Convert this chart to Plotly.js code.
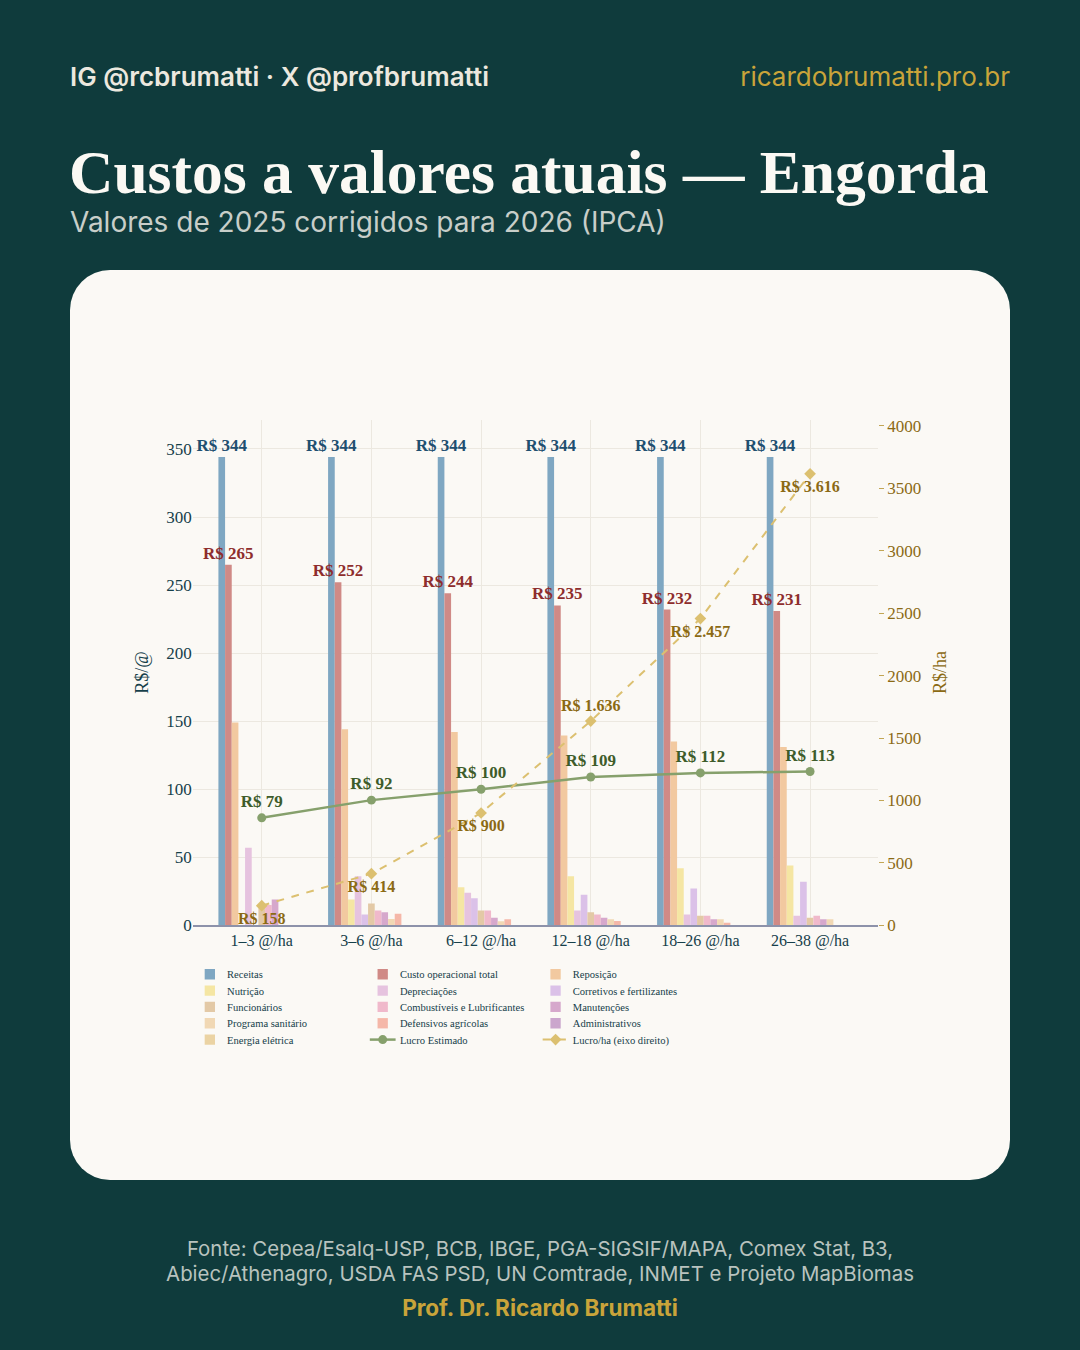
<!DOCTYPE html>
<html><head><meta charset="utf-8">
<script src="https://cdn.plot.ly/plotly-3.0.1.min.js"></script>
<style>
html,body{margin:0;padding:0;}
body{width:1080px;height:1350px;background:#0f3b3c;position:relative;overflow:hidden;font-family:Inter,'Noto Sans',sans-serif;}
#hdrL{position:absolute;left:70px;top:61px;font-size:26px;font-weight:600;color:#ece8df;}
#hdrR{position:absolute;right:70px;top:61px;font-size:26px;font-weight:400;color:#c9a43a;}
#title{position:absolute;left:69px;top:137px;font-family:'Liberation Serif',serif;font-weight:700;font-size:61.5px;color:#fbf9f4;white-space:nowrap;}
#sub{position:absolute;left:70px;top:205px;font-size:28px;color:#c8cec9;font-weight:400;}
#card{position:absolute;left:70px;top:270px;width:940px;height:910px;background:#fbf9f5;border-radius:40px;}
#chart{position:absolute;left:0;top:0;transform-origin:0 0;}
#src{position:absolute;left:0;width:1080px;top:1236px;text-align:center;font-size:20.4px;line-height:25px;color:#b9c3bf;}
#sig{position:absolute;left:0;width:1080px;top:1294px;text-align:center;font-size:22.5px;font-weight:700;color:#c9a43a;}
</style></head>
<body>
<div id="hdrL">IG @rcbrumatti · X @profbrumatti</div>
<div id="hdrR">ricardobrumatti.pro.br</div>
<div id="title">Custos a valores atuais — Engorda</div>
<div id="sub">Valores de 2025 corrigidos para 2026 (IPCA)</div>
<div id="card"></div>
<div id="chart"></div>
<div id="src">Fonte: Cepea/Esalq-USP, BCB, IBGE, PGA-SIGSIF/MAPA, Comex Stat, B3,<br>Abiec/Athenagro, USDA FAS PSD, UN Comtrade, INMET e Projeto MapBiomas</div>
<div id="sig">Prof. Dr. Ricardo Brumatti</div>
<script>
const categories = ['1–3 @/ha','3–6 @/ha','6–12 @/ha','12–18 @/ha','18–26 @/ha','26–38 @/ha'];
const receitas = [344,344,344,344,344,344];
const custoTotal = [265,252,244,235,232,231];
const reposicao = [149,144,142,139.5,135,131];
const nutricao = [0,19,28,36,42,44];
const depreciacoes = [57,36,24,11,8,7];
const corretivos = [0,8,20,22.5,27,32];
const funcionarios = [14,16,11,9.6,7,5.6];
const combustiveis = [15,11,11,8,7,7];
const manutencoes = [19,9.6,5.6,5.6,4.4,4.4];
const programaSanitario = [0,4.6,3,4.4,4.4,4.4];
const defensivos = [0,8.6,4.4,3.2,2,0];
const administrativos = [0,0,0,0,0,0];
const energia = [0,0,0,0,0,0];
const lucro = [79,92,100,109,112,113];
const lucroHa = [158,414,900,1636,2457,3616];
const lucroHaPos = ['bottom center','bottom center','bottom center','top center','bottom center','bottom center'];

const S = 0.86;               // render scale of the chart element
const P = v => v / S;         // page pixels -> chart pixels
const W = Math.round(P(1080)), H = Math.round(P(1350));
const SERIF = "Georgia, 'Liberation Serif', 'DejaVu Serif', serif";
const fmt = v => 'R$ ' + v.toLocaleString('pt-BR');

const barSeries = [
  ['Receitas', receitas, '#7fa7c2', true, '#1f4f70'],
  ['Custo operacional total', custoTotal, '#d08a86', true, '#8e2d2d'],
  ['Reposição', reposicao, '#f2c9a0'],
  ['Nutrição', nutricao, '#f5e6a3'],
  ['Depreciações', depreciacoes, '#e6c3df'],
  ['Corretivos e fertilizantes', corretivos, '#dbc1e8'],
  ['Funcionários', funcionarios, '#e3c9a6'],
  ['Combustíveis e Lubrificantes', combustiveis, '#f0b9cb'],
  ['Manutenções', manutencoes, '#d6a8cc'],
  ['Programa sanitário', programaSanitario, '#f1d8b4'],
  ['Defensivos agrícolas', defensivos, '#f5b7a8'],
  ['Administrativos', administrativos, '#cba6cd'],
  ['Energia elétrica', energia, '#ebd3a3']
];

const traces = barSeries.map(s => {
  const t = {type:'bar', name:s[0], x:categories, y:s[1], marker:{color:s[2]}, cliponaxis:false};
  if (s[3]) {
    t.text = s[1].map(fmt); t.textposition='outside'; t.constraintext='none'; t.textangle=0;
    t.textfont = {family:SERIF, size:P(17), color:s[4], weight:700};
  } else { t.textposition='none'; }
  return t;
});
traces.push({type:'scatter', mode:'lines+markers+text', name:'Lucro Estimado', x:categories, y:lucro,
  line:{color:'#86a06c', width:P(2.5)}, marker:{color:'#86a06c', size:P(9)},
  text:lucro.map(fmt), textposition:'top center', cliponaxis:false,
  textfont:{family:SERIF, size:P(17), color:'#3e5c2a', weight:700}});
traces.push({type:'scatter', mode:'lines+markers+text', name:'Lucro/ha (eixo direito)', x:categories, y:lucroHa, yaxis:'y2',
  line:{color:'#dcc070', width:P(2), dash:'dash'}, marker:{color:'#dcc070', size:P(9), symbol:'diamond'},
  text:lucroHa.map(fmt), textposition:lucroHaPos, cliponaxis:false,
  textfont:{family:SERIF, size:P(16), color:'#8b6a14', weight:700}});

const ml = Math.round(P(193)), mr = W - Math.round(P(878)), mt = Math.round(P(420)), mb = H - Math.round(P(925));
const layout = {
  width:W, height:H,
  paper_bgcolor:'rgba(0,0,0,0)', plot_bgcolor:'rgba(0,0,0,0)',
  margin:{l:ml, r:mr, t:mt, b:mb},
  barmode:'group', bargap:0.21, bargroupgap:0,
  showlegend:true,
  font:{family:SERIF, color:'#16404a'},
  xaxis:{type:'category', range:[-0.63,5.62], showgrid:true, gridcolor:'#ece8e0', gridwidth:P(1), showline:true, linecolor:'#8d92aa', linewidth:P(1.5),
    tickfont:{family:SERIF, size:P(16), color:'#16404a'}, ticks:'', zeroline:false},
  yaxis:{range:[0,371.5], tickvals:[0,50,100,150,200,250,300,350], gridcolor:'#ece8e0', gridwidth:P(1), zeroline:false,
    tickfont:{family:SERIF, size:P(17), color:'#16404a'}, ticks:'',
    title:{text:'R$/@', font:{family:SERIF, size:P(18), color:'#16404a'}, standoff:P(12)}},
  yaxis2:{overlaying:'y', side:'right', range:[0,4050], tickvals:[0,500,1000,1500,2000,2500,3000,3500,4000], showgrid:false, zeroline:false,
    ticks:'outside', ticklen:P(5), tickcolor:'#b8993a', tickfont:{family:SERIF, size:P(17), color:'#8b6a14'},
    title:{text:'R$/ha', font:{family:SERIF, size:P(18), color:'#8b6a14'}, standoff:P(12)}},
  legend:{orientation:'h', x:0.0, xanchor:'left', y:-0.072, yanchor:'top', entrywidth:156, tracegroupgap:0,
    font:{family:SERIF, size:12.3, color:'#16404a'}, bgcolor:'rgba(0,0,0,0)', itemwidth:30, traceorder:'normal'}
};
const el = document.getElementById('chart');
el.style.width = W + 'px'; el.style.height = H + 'px'; el.style.transform = 'scale(' + S + ')';
Plotly.newPlot(el, traces, layout, {displayModeBar:false, staticPlot:true});
</script>
</body></html>
